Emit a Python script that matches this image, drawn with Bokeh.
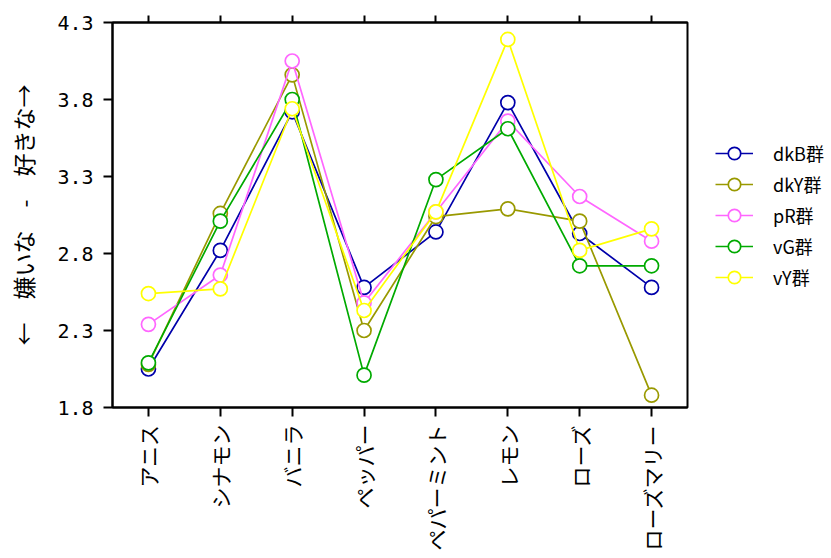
import math
from bokeh.plotting import figure
from bokeh.models import (FixedTicker, CategoricalAxis, Legend,
                          LegendItem, Range1d, FactorRange)
from bokeh.embed import file_html
from bokeh.resources import INLINE

categories = ["アニス", "シナモン", "バニラ", "ペッパー", "ペパーミント", "レモン", "ローズ", "ローズマリー"]
series_names = ["dkB群", "dkY群", "pR群", "vG群", "vY群"]
dkB = [2.05, 2.82, 3.72, 2.58, 2.94, 3.78, 2.93, 2.58]
dkY = [2.08, 3.06, 3.96, 2.30, 3.04, 3.09, 3.01, 1.88]
pR = [2.34, 2.66, 4.05, 2.48, 3.07, 3.66, 3.17, 2.88]
vG = [2.09, 3.01, 3.80, 2.01, 3.28, 3.61, 2.72, 2.72]
vY = [2.54, 2.57, 3.74, 2.43, 3.07, 4.19, 2.82, 2.96]
colors = ["#0000AA", "#999900", "#FF66FF", "#00AA00", "#FFFF00"]
y_ticks = [1.8, 2.3, 2.8, 3.3, 3.8, 4.3]
y_label = "←　嫌いな　-　好きな→"

FONT = "Noto Sans CJK JP"

p = figure(frame_width=575, frame_height=385, output_backend="svg", toolbar_location=None,
           x_range=FactorRange(*categories), y_range=Range1d(1.8, 4.3),
           min_border_left=112, min_border_right=0, min_border_top=22,
           min_border_bottom=151)
p.xgrid.visible = False
p.ygrid.visible = False
p.outline_line_color = "black"
p.outline_line_width = 2
p.background_fill_color = "white"
p.border_fill_color = "white"

p.yaxis.ticker = FixedTicker(ticks=y_ticks)
p.yaxis.axis_label = y_label
p.yaxis.axis_label_text_font = FONT
p.yaxis.axis_label_text_font_size = "23px"
p.yaxis.axis_label_text_font_style = "normal"
p.yaxis.axis_label_text_color = "black"
p.yaxis.axis_label_standoff = 14
p.yaxis.major_label_text_font = "DejaVu Sans Mono"
p.yaxis.major_label_text_font_size = "20px"
p.yaxis.major_label_standoff = 10

p.xaxis.major_label_orientation = math.pi / 2
p.xaxis.major_label_text_font = FONT
p.xaxis.major_label_text_font_size = "21px"
p.xaxis.major_label_standoff = 8

for ax in [p.xaxis[0], p.yaxis[0]]:
    ax.axis_line_width = 2
    ax.axis_line_color = "black"
    ax.major_tick_line_width = 2
    ax.major_tick_out = 9
    ax.major_tick_in = 0
    ax.minor_tick_line_color = None
    ax.major_label_text_color = "black"

top = CategoricalAxis(axis_line_width=2, major_tick_line_width=2, major_tick_out=7,
                      major_tick_in=0, minor_tick_line_color=None, major_label_standoff=0,
                      major_label_text_color=None, major_label_text_font_size="1px")
p.add_layout(top, "above")

items = []
for name, vals, col in zip(series_names, [dkB, dkY, pR, vG, vY], colors):
    ln = p.line(categories, vals, line_color=col, line_width=1.7)
    sc = p.scatter(categories, vals, marker="circle", size=14, fill_color="white",
                   line_color=col, line_width=1.7)
    items.append(LegendItem(label=name, renderers=[ln, sc]))

legend = Legend(items=items, location="center_left", ncols=1, orientation="vertical",
                glyph_width=38, glyph_height=31, label_height=31, spacing=0,
                label_standoff=20, padding=0, margin=28,
                border_line_color=None, background_fill_alpha=0,
                label_text_font=FONT, label_text_font_size="18px",
                label_text_color="black")
p.add_layout(legend, "right")

open("out.html", "w").write(file_html(p, INLINE))
